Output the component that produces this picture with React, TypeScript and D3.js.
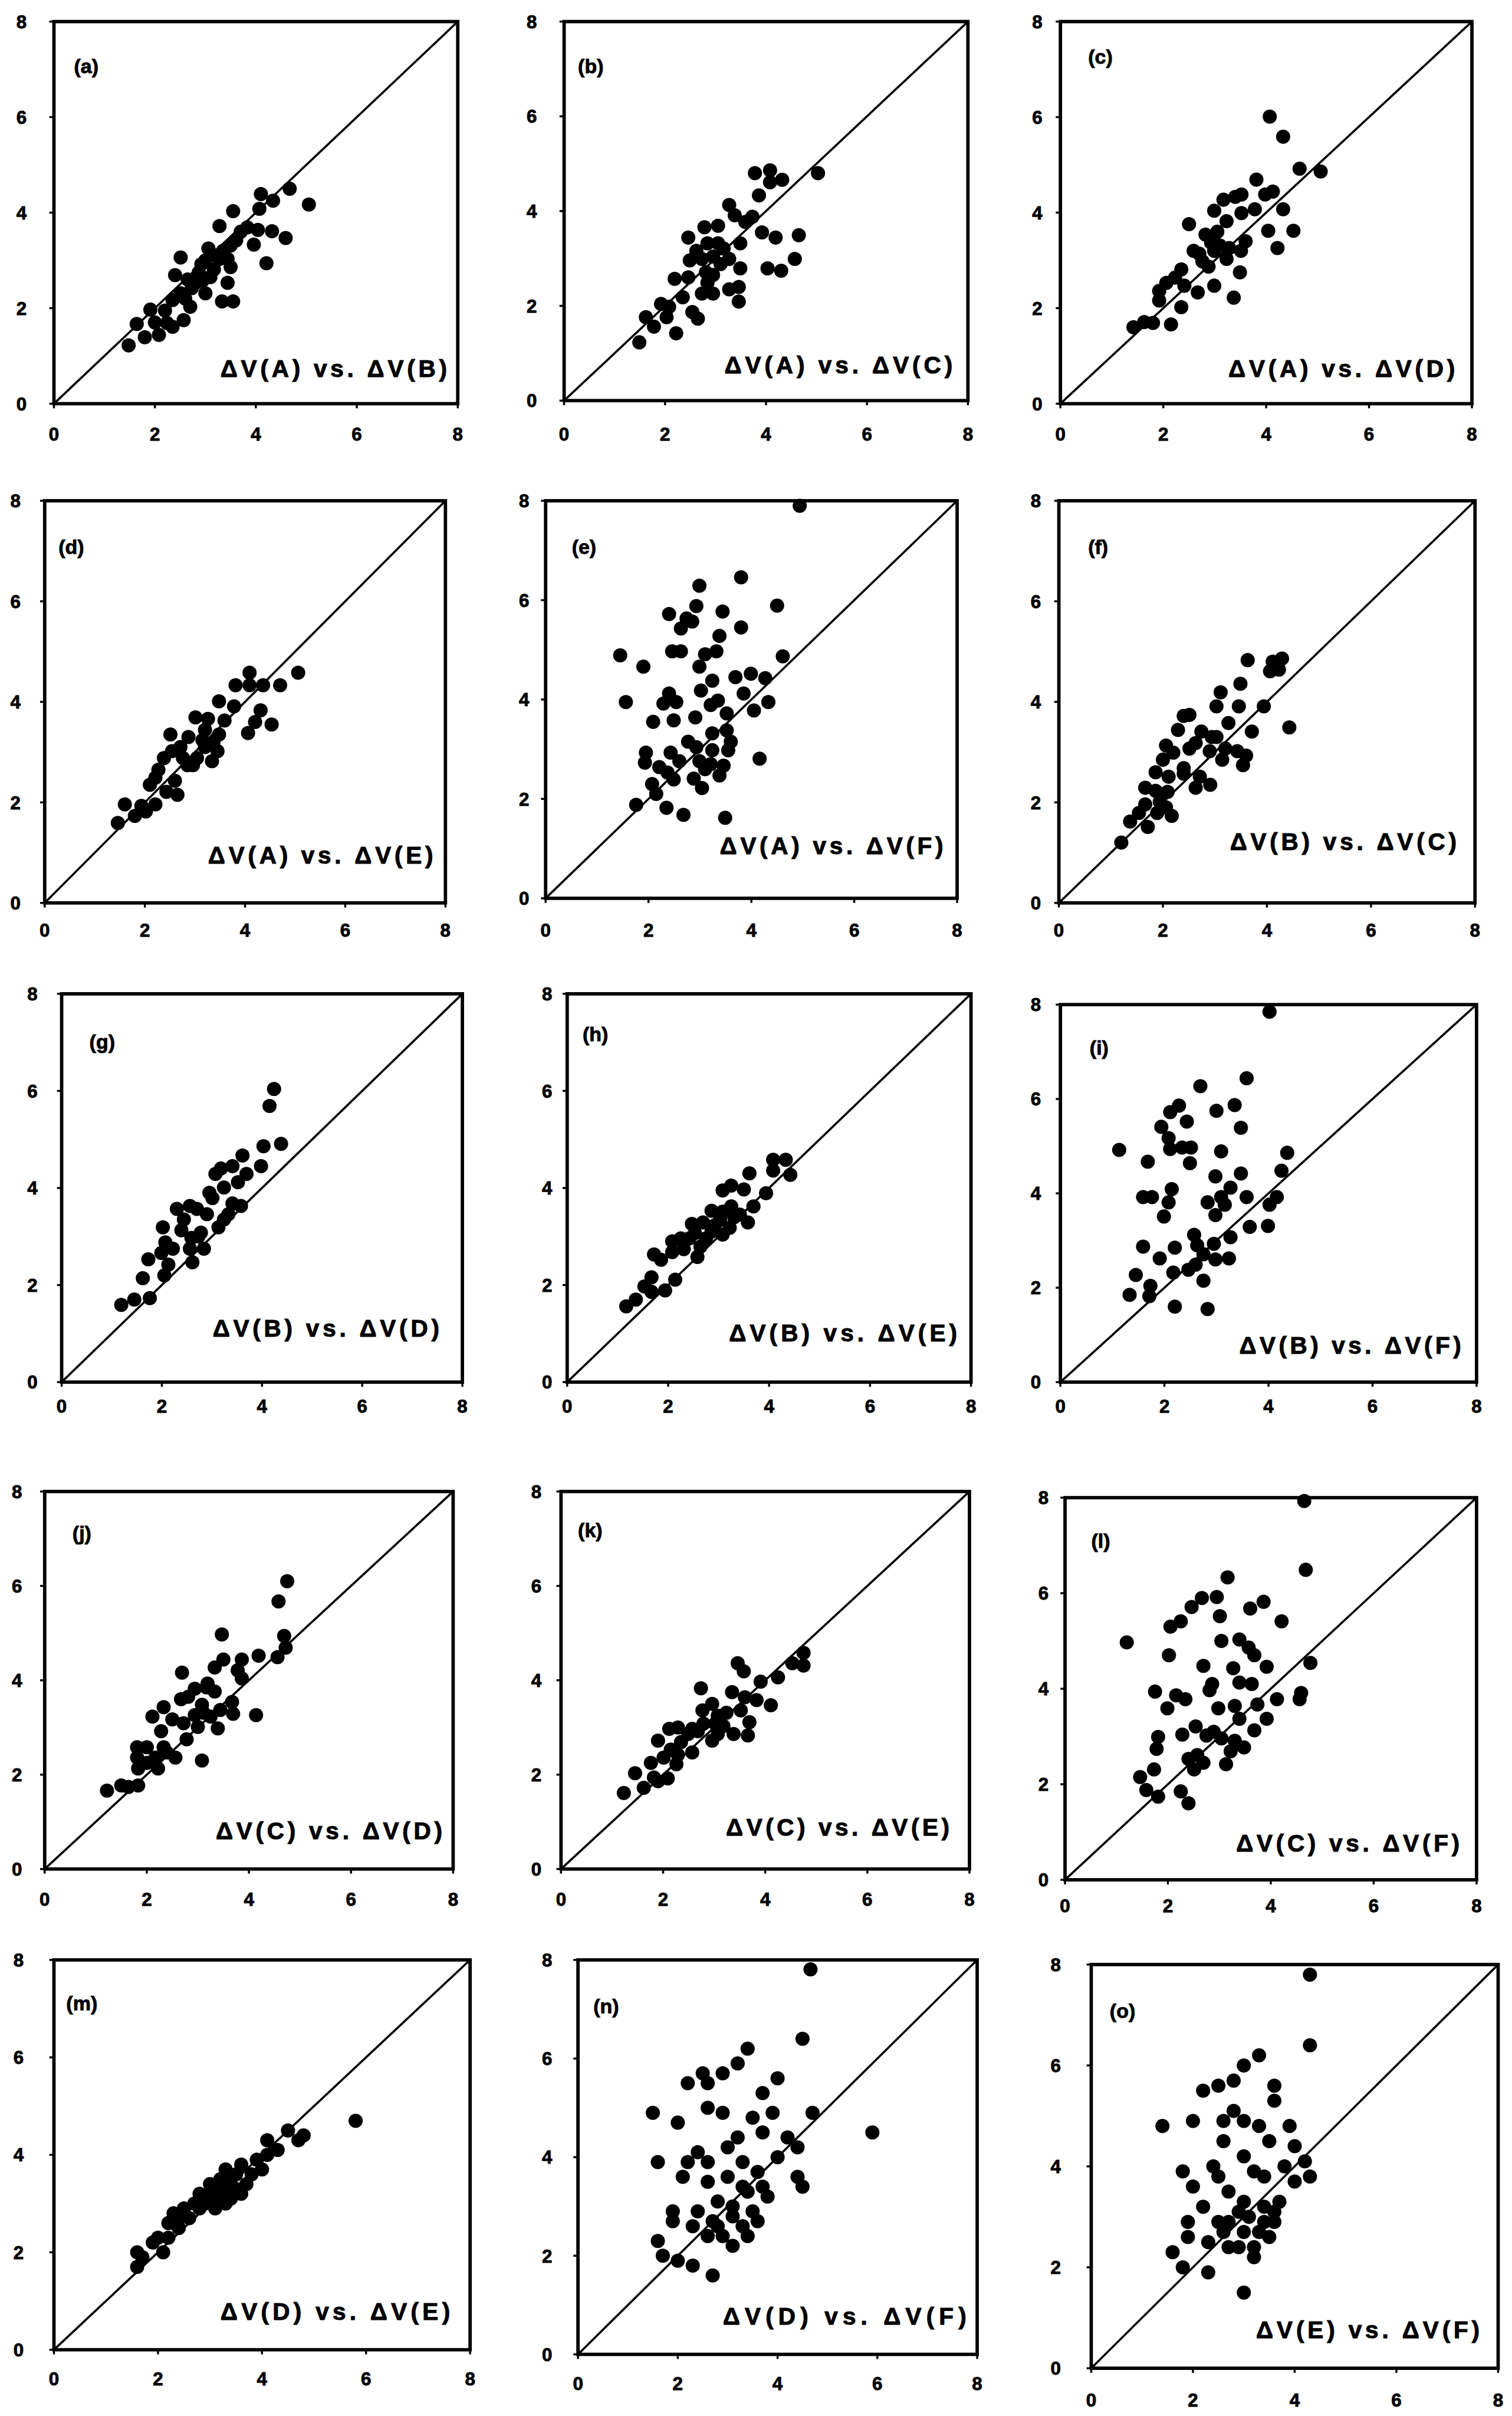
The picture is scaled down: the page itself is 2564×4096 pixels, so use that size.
import React from "react";
import * as d3 from "d3";

type P = [number, number];

// ---------- text ----------
const panelTags = ["(a)", "(b)", "(c)", "(d)", "(e)", "(f)", "(g)", "(h)", "(i)", "(j)", "(k)", "(l)", "(m)", "(n)", "(o)"];
const panelTitles = [
  "ΔV(A) vs. ΔV(B)", "ΔV(A) vs. ΔV(C)", "ΔV(A) vs. ΔV(D)",
  "ΔV(A) vs. ΔV(E)", "ΔV(A) vs. ΔV(F)", "ΔV(B) vs. ΔV(C)",
  "ΔV(B) vs. ΔV(D)", "ΔV(B) vs. ΔV(E)", "ΔV(B) vs. ΔV(F)",
  "ΔV(C) vs. ΔV(D)", "ΔV(C) vs. ΔV(E)", "ΔV(C) vs. ΔV(F)",
  "ΔV(D) vs. ΔV(E)", "ΔV(D) vs. ΔV(F)", "ΔV(E) vs. ΔV(F)",
];
const tickValues = [0, 2, 4, 6, 8];
const axisDomain = [0, 8];

// ---------- data ----------
const dataA: P[] = [[1.48,1.22],[1.64,1.67],[1.80,1.39],[1.91,1.97],[2.0,1.7],[2.08,1.44],[2.24,1.69],[2.35,1.61],[2.57,1.75],[2.35,2.17],[2.51,2.31],[2.70,2.03],[2.40,2.69],[2.51,3.06],[2.73,2.42],[2.81,2.53],[2.92,2.92],[2.95,2.58],[3.0,2.31],[3.06,3.25],[3.17,2.81],[3.28,3.03],[3.44,3.03],[3.50,2.86],[3.44,2.53],[3.33,2.14],[3.55,2.14],[3.28,3.72],[3.55,4.03],[3.50,3.31],[3.61,3.42],[3.83,3.69],[4.04,3.64],[3.96,3.33],[4.32,3.61],[4.59,3.47],[4.21,2.94],[4.07,4.08],[4.10,4.39],[4.34,4.25],[4.67,4.5],[5.05,4.17],[2.87,2.75],[3.1,2.65],[2.65,2.6],[3.2,3.1],[3.0,3.0],[2.2,1.95],[2.6,2.2],[3.35,3.2],[3.7,3.6]];
const dataB: P[] = [[1.49,1.23],[1.62,1.76],[1.78,1.56],[1.92,2.04],[2.08,1.98],[2.03,1.76],[2.22,1.42],[2.35,2.18],[2.54,1.87],[2.65,1.73],[2.19,2.57],[2.46,2.60],[2.73,2.26],[2.95,2.26],[2.81,2.71],[2.95,2.65],[2.49,2.96],[2.62,3.16],[2.84,3.32],[3.05,3.32],[3.16,3.21],[3.27,2.99],[3.49,2.79],[3.27,2.35],[3.46,2.40],[3.46,2.09],[2.46,3.44],[2.78,3.66],[3.05,3.69],[3.49,3.32],[3.38,3.91],[3.59,3.77],[3.73,3.88],[3.27,4.13],[3.86,4.33],[3.78,4.80],[4.08,4.86],[4.08,4.61],[4.32,4.66],[5.03,4.80],[3.92,3.55],[4.19,3.44],[4.65,3.49],[4.57,2.99],[4.03,2.79],[4.30,2.74],[2.95,3.04],[2.73,2.99],[3.1,2.88],[2.84,2.49]];
const dataC: P[] = [[1.42,1.60],[1.63,1.71],[1.80,1.69],[2.15,1.66],[1.92,2.36],[2.06,2.53],[1.92,2.16],[2.35,2.02],[2.41,2.47],[2.67,2.33],[2.99,2.47],[3.37,2.22],[2.35,2.81],[2.59,3.20],[2.76,2.98],[2.88,2.87],[2.82,3.54],[3.05,3.60],[3.10,3.31],[3.28,3.26],[3.51,3.20],[3.60,3.40],[3.49,2.75],[3.23,3.03],[2.50,3.76],[2.99,4.04],[3.23,3.82],[3.52,3.99],[3.78,4.07],[3.17,4.27],[3.40,4.33],[3.52,4.38],[3.81,4.69],[3.98,4.38],[4.13,4.44],[4.04,3.62],[4.33,4.07],[4.53,3.62],[4.22,3.26],[4.65,4.92],[5.06,4.86],[4.07,6.01],[4.33,5.59],[2.70,3.14],[2.99,3.2],[2.93,3.37],[2.23,2.64]];
const dataD: P[] = [[1.46,1.59],[1.60,1.96],[1.80,1.73],[1.93,1.93],[2.02,1.82],[2.21,1.96],[2.10,2.35],[2.21,2.49],[2.43,2.21],[2.65,2.15],[2.60,2.43],[2.38,2.88],[2.54,3.02],[2.51,3.35],[2.85,2.74],[2.96,2.74],[2.87,3.30],[3.15,3.24],[3.34,2.82],[3.45,3.02],[3.04,2.88],[3.01,3.69],[3.26,3.66],[3.59,3.63],[3.48,3.35],[3.48,4.01],[3.78,3.91],[3.81,4.33],[4.09,4.58],[4.09,4.33],[4.36,4.33],[4.70,4.33],[5.06,4.58],[4.31,3.83],[4.20,3.60],[4.53,3.55],[4.06,3.38],[3.2,3.44],[3.2,3.1],[2.76,2.88],[2.27,2.65],[2.71,3.1],[3.37,3.2]];
const dataE: P[] = [[4.94,7.90],[3.80,6.46],[2.99,6.29],[2.93,5.88],[2.40,5.72],[2.74,5.63],[2.85,5.57],[2.63,5.43],[3.44,5.77],[4.50,5.89],[3.80,5.45],[3.38,5.28],[2.46,4.97],[2.63,4.97],[1.45,4.89],[1.90,4.66],[3.10,4.91],[3.32,4.97],[2.99,4.66],[4.61,4.87],[3.24,4.38],[3.69,4.45],[3.99,4.52],[4.27,4.43],[3.02,4.18],[2.40,4.12],[2.29,3.92],[2.54,3.95],[1.56,3.95],[3.21,3.89],[3.35,3.98],[3.85,4.12],[4.05,3.78],[4.33,3.95],[3.52,3.72],[2.09,3.55],[2.49,3.58],[2.91,3.64],[3.24,3.32],[3.52,3.38],[2.77,3.15],[2.93,3.04],[3.60,3.15],[3.55,2.98],[3.24,2.98],[1.95,2.93],[2.43,2.93],[2.60,2.76],[1.93,2.73],[2.21,2.64],[2.37,2.53],[2.49,2.39],[2.99,2.76],[3.21,2.70],[3.46,2.67],[3.38,2.47],[2.88,2.41],[3.04,2.22],[4.16,2.81],[2.07,2.30],[2.15,2.10],[2.35,1.82],[1.76,1.88],[2.68,1.68],[3.49,1.62],[3.10,2.6]];
const dataF: P[] = [[1.20,1.20],[1.37,1.62],[1.71,1.51],[1.54,1.79],[1.66,1.96],[1.89,1.79],[2.17,1.73],[2.06,1.90],[1.86,2.23],[1.66,2.29],[1.86,2.60],[2.09,2.21],[2.11,2.51],[2.06,3.13],[2.20,2.99],[2.40,2.57],[2.63,2.29],[2.91,2.35],[2.71,2.51],[2.40,2.68],[2.51,3.07],[2.63,3.18],[2.74,3.41],[2.94,3.30],[3.14,2.85],[3.20,3.07],[2.29,3.44],[2.40,3.72],[2.51,3.74],[3.03,3.91],[3.11,4.19],[3.26,3.58],[3.46,3.91],[3.49,4.36],[3.94,3.91],[3.71,3.41],[3.54,2.74],[3.60,2.93],[3.43,3.02],[4.43,3.49],[3.63,4.83],[4.06,4.61],[4.11,4.80],[4.29,4.86],[4.23,4.64],[2.9,3.02],[3.03,3.3],[1.94,2.01],[2.0,2.85]];
const dataG: P[] = [[1.19,1.59],[1.45,1.70],[1.76,1.73],[1.62,2.14],[1.73,2.53],[2.05,2.20],[2.13,2.42],[1.99,2.66],[2.07,2.88],[2.22,2.75],[2.61,2.47],[2.84,2.75],[2.02,3.19],[2.30,3.57],[2.56,3.63],[2.70,3.57],[2.39,3.13],[2.59,2.97],[2.73,3.00],[2.56,2.75],[2.78,3.08],[3.13,3.19],[3.33,3.46],[3.58,3.63],[3.41,3.68],[3.01,3.79],[2.95,3.90],[3.24,4.01],[3.52,4.12],[3.07,4.29],[3.18,4.40],[3.41,4.45],[3.69,4.29],[3.61,4.67],[3.98,4.45],[4.03,4.86],[4.38,4.91],[4.15,5.69],[4.24,6.04],[2.90,3.46],[3.24,3.35],[2.44,3.35]];
const dataH: P[] = [[1.17,1.56],[1.36,1.70],[1.53,1.97],[1.67,2.16],[1.67,1.86],[1.94,1.89],[2.14,2.11],[1.72,2.63],[1.86,2.52],[2.08,2.90],[2.08,2.68],[2.31,2.74],[2.42,2.96],[2.47,3.26],[2.58,2.58],[2.64,2.79],[2.75,2.96],[2.86,3.10],[2.86,3.53],[3.03,3.34],[3.08,3.04],[3.22,3.18],[3.25,3.62],[3.08,3.95],[3.25,4.05],[3.50,3.97],[3.58,3.29],[3.69,3.62],[3.42,3.45],[3.61,4.30],[3.94,3.89],[4.08,4.58],[4.33,4.58],[4.08,4.36],[4.42,4.27],[2.25,2.96],[2.53,3.07],[2.69,3.29],[2.92,3.23],[3.31,3.40],[3.08,3.51]];
const dataI: P[] = [[4.02,7.85],[3.58,6.44],[2.69,6.27],[2.28,5.86],[2.11,5.72],[3.00,5.75],[3.35,5.87],[2.43,5.52],[3.47,5.39],[1.94,5.41],[2.08,5.17],[2.11,4.94],[2.34,4.97],[2.51,4.97],[2.49,4.64],[1.13,4.92],[1.68,4.67],[3.09,4.89],[4.36,4.86],[2.98,4.36],[3.47,4.42],[4.25,4.48],[3.27,4.12],[2.14,4.09],[1.59,3.92],[1.76,3.92],[2.08,3.81],[3.58,3.92],[2.83,3.81],[3.09,3.92],[2.98,3.54],[3.16,3.76],[4.16,3.92],[4.02,3.76],[1.99,3.51],[3.64,3.29],[3.99,3.31],[2.57,3.12],[3.27,3.07],[1.59,2.87],[2.20,2.85],[2.63,2.90],[2.95,2.93],[2.75,2.71],[2.98,2.60],[3.24,2.62],[1.91,2.62],[2.46,2.38],[2.17,2.32],[2.60,2.49],[1.45,2.27],[1.73,2.04],[2.75,2.15],[1.33,1.85],[1.71,1.82],[2.20,1.60],[2.83,1.55]];
const dataJ: P[] = [[1.22,1.66],[1.50,1.77],[1.64,1.74],[1.83,1.77],[1.83,2.13],[1.81,2.36],[1.81,2.58],[2.0,2.58],[2.22,2.13],[2.17,2.36],[2.33,2.58],[2.56,2.36],[2.39,2.47],[2.28,2.92],[2.50,3.17],[2.11,3.23],[2.33,3.43],[2.78,2.75],[2.72,3.09],[3.0,3.01],[2.94,3.26],[3.11,3.31],[3.25,3.23],[3.39,2.98],[3.44,3.37],[3.67,3.54],[3.69,3.29],[2.67,3.60],[2.81,3.65],[2.94,3.82],[3.17,3.85],[3.33,3.76],[3.19,3.93],[2.69,4.16],[3.33,4.27],[3.50,4.44],[3.86,4.44],[3.86,4.04],[3.78,4.21],[4.19,4.52],[4.56,4.49],[4.69,4.94],[4.72,4.69],[3.47,4.97],[4.14,3.26],[3.08,2.30],[4.58,5.67],[4.75,6.10],[2.0,2.25],[3.08,3.48]];
const dataK: P[] = [[1.23,1.61],[1.45,2.03],[1.62,1.72],[1.76,2.25],[1.82,1.94],[1.90,1.86],[2.09,1.92],[1.90,2.72],[2.01,2.36],[2.15,2.53],[2.26,2.22],[2.12,2.97],[2.29,3.0],[2.35,2.69],[2.57,2.47],[2.49,2.86],[2.68,2.92],[2.79,3.08],[2.96,2.72],[3.07,2.86],[3.18,3.03],[2.77,3.36],[2.96,3.5],[3.07,3.25],[3.24,3.31],[3.38,2.86],[3.66,2.83],[3.69,3.11],[3.52,3.36],[3.35,3.75],[3.60,3.64],[3.83,3.58],[4.11,3.47],[2.74,3.83],[3.46,4.36],[3.58,4.19],[3.91,3.97],[4.25,4.06],[4.53,4.36],[4.75,4.31],[4.75,4.58],[3.02,3.08],[2.57,2.97],[2.29,2.42]];
const dataL: P[] = [[4.65,7.93],[4.68,6.49],[3.16,6.33],[2.95,5.92],[2.66,5.90],[2.46,5.71],[3.01,5.52],[3.60,5.68],[3.86,5.82],[4.21,5.41],[2.25,5.41],[2.05,5.30],[1.20,4.97],[2.02,4.70],[3.04,5.00],[3.39,5.03],[3.57,4.86],[3.68,4.70],[3.92,4.46],[2.69,4.48],[3.27,4.43],[3.39,4.13],[3.63,4.10],[2.86,4.10],[2.81,3.97],[4.77,4.54],[1.75,3.94],[2.16,3.86],[2.34,3.78],[1.99,3.59],[2.98,3.59],[3.30,3.64],[3.74,3.67],[4.12,3.78],[4.59,3.91],[4.56,3.78],[3.39,3.37],[3.92,3.37],[3.68,3.13],[2.54,3.21],[2.28,3.04],[1.81,2.99],[1.78,2.74],[2.75,3.02],[2.89,3.10],[3.04,2.96],[3.30,2.91],[3.48,2.77],[3.22,2.69],[2.40,2.53],[2.57,2.61],[2.69,2.45],[2.51,2.31],[3.13,2.42],[1.73,2.31],[1.46,2.15],[1.58,1.88],[1.81,1.74],[2.25,1.85],[2.40,1.60]];
const dataM: P[] = [[1.6,1.7],[1.6,2.0],[1.7,1.9],[1.9,2.2],[2.0,2.3],[2.1,2.0],[2.2,2.6],[2.3,2.8],[2.4,2.5],[2.4,2.7],[2.5,2.9],[2.6,2.7],[2.7,3.0],[2.8,2.9],[2.9,3.1],[2.9,3.0],[3.0,3.2],[3.1,2.9],[3.1,3.3],[3.2,3.1],[3.2,3.5],[3.3,3.3],[3.3,3.7],[3.4,3.1],[3.4,3.5],[3.5,3.3],[3.5,3.6],[3.6,3.2],[3.7,3.4],[3.8,3.6],[3.9,3.9],[4.0,3.7],[4.1,4.0],[4.1,4.3],[4.3,4.1],[4.5,4.5],[4.7,4.3],[4.8,4.4],[5.8,4.7],[3.0,3.4],[2.8,3.2],[3.6,3.8],[2.2,2.3],[3.3,3.0]];
const dataN: P[] = [[4.66,7.81],[4.5,6.4],[3.4,6.2],[3.2,5.9],[2.9,5.7],[2.5,5.7],[2.2,5.5],[2.6,5.5],[3.7,5.3],[4.0,5.6],[1.5,4.9],[2.0,4.7],[2.6,5.0],[2.9,4.9],[3.5,4.8],[3.9,4.9],[4.7,4.9],[3.2,4.4],[3.7,4.5],[4.2,4.4],[4.4,4.2],[3.0,4.2],[2.4,4.1],[2.2,3.9],[1.6,3.9],[2.6,3.9],[3.3,3.9],[4.0,4.0],[4.4,3.6],[5.9,4.5],[3.6,3.7],[2.1,3.6],[2.6,3.5],[3.0,3.6],[3.4,3.3],[3.7,3.4],[2.8,3.1],[3.1,3.0],[3.8,3.2],[4.5,3.4],[3.5,2.9],[1.9,2.9],[2.4,2.9],[2.7,2.7],[1.9,2.7],[2.3,2.6],[2.6,2.4],[3.1,2.8],[3.3,2.6],[3.6,2.7],[3.4,2.4],[2.9,2.4],[3.1,2.2],[1.6,2.3],[1.7,2.0],[2.0,1.9],[2.3,1.8],[2.7,1.6],[3.3,3.4],[2.8,2.6]];
const dataO: P[] = [[4.3,7.8],[4.3,6.4],[3.3,6.2],[3.0,6.0],[2.8,5.7],[2.5,5.6],[2.2,5.5],[3.6,5.6],[3.6,5.3],[2.8,5.1],[1.4,4.8],[2.0,4.9],[2.6,4.9],[3.0,4.9],[3.3,4.8],[3.9,4.8],[2.6,4.5],[3.5,4.5],[4.0,4.4],[4.2,4.1],[3.0,4.2],[2.4,4.0],[1.8,3.9],[2.5,3.8],[3.2,3.9],[3.8,4.0],[4.0,3.7],[3.4,3.8],[2.0,3.6],[2.7,3.5],[3.0,3.3],[3.4,3.2],[3.7,3.3],[2.9,3.1],[3.1,3.0],[3.4,2.9],[3.6,2.9],[1.9,2.9],[2.5,2.9],[2.6,2.7],[1.9,2.6],[2.3,2.5],[2.7,2.4],[3.0,2.7],[3.3,2.7],[3.5,2.6],[3.2,2.4],[2.9,2.4],[3.2,2.2],[1.6,2.3],[1.8,2.0],[2.3,1.9],[3.0,1.5],[2.7,2.9],[3.6,3.1],[4.3,3.8],[2.2,3.2]];

const panelData: P[][] = [dataA, dataB, dataC, dataD, dataE, dataF, dataG, dataH, dataI, dataJ, dataK, dataL, dataM, dataN, dataO];

// ---------- layout (in 981 x 1568 reference-view units) ----------
type Frame = { x0: number; x8: number; y0: number; y8: number; tag: [number, number]; t0: number; t1: number; ty: number; xl: number; yl: number };
const frames: Frame[] = [
  { x0: 35, x8: 297, y0: 262, y8: 14, tag: [48, 47.5], t0: 143, t1: 290, ty: 244, xl: 286, yl: 14 },
  { x0: 366, x8: 628, y0: 260, y8: 14, tag: [375, 47.5], t0: 470, t1: 618, ty: 242, xl: 286, yl: 345 },
  { x0: 688, x8: 955, y0: 262, y8: 14, tag: [706, 41.5], t0: 797, t1: 944, ty: 244, xl: 286, yl: 673 },
  { x0: 29, x8: 289, y0: 586, y8: 325, tag: [38, 359.5], t0: 135, t1: 281, ty: 560, xl: 608, yl: 10 },
  { x0: 354, x8: 621, y0: 583, y8: 325, tag: [371, 359.5], t0: 467, t1: 612, ty: 554, xl: 608, yl: 340 },
  { x0: 687, x8: 957, y0: 586, y8: 325, tag: [706, 359.5], t0: 798, t1: 945, ty: 551, xl: 608, yl: 672 },
  { x0: 40, x8: 300, y0: 897, y8: 645, tag: [58, 680.5], t0: 138, t1: 285, ty: 867, xl: 917, yl: 21 },
  { x0: 368, x8: 630, y0: 897, y8: 645, tag: [378, 675.5], t0: 473, t1: 621, ty: 870, xl: 917, yl: 355 },
  { x0: 688, x8: 958, y0: 897, y8: 652, tag: [707, 684.5], t0: 804, t1: 948, ty: 878, xl: 917, yl: 672 },
  { x0: 29, x8: 294, y0: 1213, y8: 968, tag: [47, 999.5], t0: 140, t1: 287, ty: 1193, xl: 1237, yl: 11 },
  { x0: 364, x8: 629, y0: 1213, y8: 968, tag: [375, 997.5], t0: 471, t1: 616, ty: 1191, xl: 1237, yl: 348 },
  { x0: 691, x8: 958, y0: 1220, y8: 972, tag: [708, 1004.5], t0: 802, t1: 947, ty: 1201, xl: 1241, yl: 677 },
  { x0: 35, x8: 305, y0: 1525, y8: 1272, tag: [43, 1304.5], t0: 143, t1: 292, ty: 1505, xl: 1548, yl: 12 },
  { x0: 375, x8: 634, y0: 1528, y8: 1272, tag: [385, 1306.5], t0: 469, t1: 627, ty: 1508, xl: 1551, yl: 355 },
  { x0: 708, x8: 972, y0: 1537, y8: 1275, tag: [720, 1309.5], t0: 815, t1: 960, ty: 1517, xl: 1562, yl: 685 },
];

const FONT = "'Liberation Sans', Arial, Helvetica, sans-serif";

function Panel({ i }: { i: number }) {
  const f = frames[i];
  const x = d3.scaleLinear().domain(axisDomain).range([f.x0, f.x8]);
  const y = d3.scaleLinear().domain(axisDomain).range([f.y0, f.y8]);
  const diag = d3.line<number>().x((v) => x(v)).y((v) => y(v))(axisDomain) || "";
  return (
    <g>
      <rect x={f.x0} y={f.y8} width={f.x8 - f.x0} height={f.y0 - f.y8} fill="none" stroke="#000" strokeWidth={2.2} />
      <path d={diag} stroke="#000" strokeWidth={1.4} fill="none" />
      {tickValues.map((t) => (
        <g key={"x" + t}>
          <line x1={x(t)} x2={x(t)} y1={f.y0} y2={f.y0 + 3} stroke="#000" strokeWidth={1.3} />
          <text x={x(t)} y={f.xl} textAnchor="middle" fontFamily={FONT} fontWeight="bold" fontSize={12} stroke="#000" strokeWidth={0.35}>{t}</text>
        </g>
      ))}
      {tickValues.map((t) => (
        <g key={"y" + t}>
          <line x1={f.x0 - 3} x2={f.x0} y1={y(t)} y2={y(t)} stroke="#000" strokeWidth={1.3} />
          <text x={f.yl} y={y(t) + 4.3} textAnchor="middle" fontFamily={FONT} fontWeight="bold" fontSize={12} stroke="#000" strokeWidth={0.35}>{t}</text>
        </g>
      ))}
      {panelData[i].map((p, k) => (
        <circle key={k} cx={x(p[0])} cy={y(p[1])} r={4.6} fill="#000" />
      ))}
      <text x={f.tag[0]} y={f.tag[1]} fontFamily={FONT} fontWeight="bold" fontSize={13} stroke="#000" strokeWidth={0.35}>{panelTags[i]}</text>
      <text x={f.t0} y={f.ty + 0.5} fontFamily={FONT} fontWeight="bold" fontSize={15.5} stroke="#000" strokeWidth={0.4} textLength={f.t1 - f.t0} lengthAdjust="spacing">{panelTitles[i]}</text>
    </g>
  );
}

export default function App() {
  return (
    <svg
      width={2564}
      height={4096}
      viewBox="0 0 981 1568"
      preserveAspectRatio="none"
      style={{ position: "absolute", left: 0, top: 0, background: "#fff" }}
    >
      <rect x={0} y={0} width={981} height={1568} fill="#fff" />
      {frames.map((_, i) => (
        <Panel key={i} i={i} />
      ))}
    </svg>
  );
}
